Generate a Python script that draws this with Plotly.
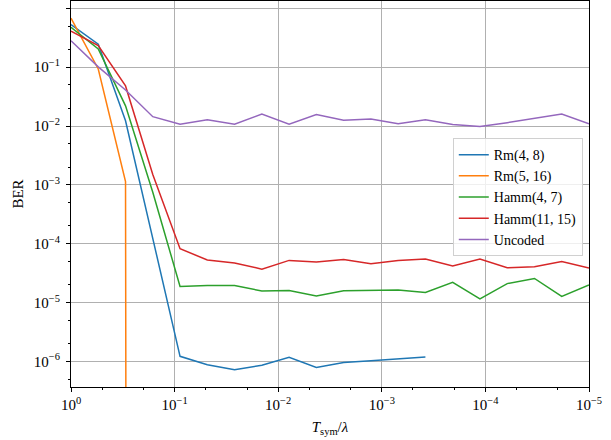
import plotly.graph_objects as go

# x: T_sym / lambda sample points
t_ratio = [1.0, 0.5456, 0.2976, 0.1624, 0.08859, 0.04833, 0.02637, 0.01438,
           0.007848, 0.004281, 0.002336, 0.001274, 0.0006952, 0.0003793,
           0.0002069, 0.0001129, 6.158e-05, 3.360e-05, 1.833e-05, 1e-05]

ber_rm48 = [0.53, 0.245, 0.0123, 1.2e-4, 1.22e-6, 8.8e-7, 7.2e-7, 8.6e-7,
            1.17e-6, 7.9e-7, 9.6e-7, 1.03e-6, 1.1e-6, 1.19e-6,
            None, None, None, None, None, None]
ber_rm516 = [0.68, 0.093, 1.14e-3, 0, 0, 0, 0, 0, 0, 0,
             0, 0, 0, 0, 0, 0, 0, 0, 0, 0]
ber_hamm47 = [0.475, 0.204, 0.022, 7.5e-4, 1.88e-5, 1.95e-5, 1.94e-5, 1.57e-5,
              1.6e-5, 1.29e-5, 1.58e-5, 1.6e-5, 1.64e-5, 1.48e-5,
              2.2e-5, 1.15e-5, 2.1e-5, 2.57e-5, 1.27e-5, 1.99e-5]
ber_hamm1115 = [0.41, 0.232, 0.048, 1.5e-3, 8.2e-5, 5.3e-5, 4.7e-5, 3.7e-5,
                5.2e-5, 4.9e-5, 5.4e-5, 4.55e-5, 5.2e-5, 5.5e-5,
                4.2e-5, 5.5e-5, 3.9e-5, 4.05e-5, 5.0e-5, 3.85e-5]
ber_uncoded = [0.28, 0.101, 0.041, 0.0144, 0.0107, 0.0128, 0.0107, 0.0159,
               0.0107, 0.0156, 0.0125, 0.0132, 0.0109, 0.0128,
               0.0106, 0.0098, 0.0114, 0.0136, 0.0160, 0.0109]

series_names = ["Rm(4, 8)", "Rm(5, 16)", "Hamm(4, 7)", "Hamm(11, 15)", "Uncoded"]
series_colors = ["#1f77b4", "#ff7f0e", "#2ca02c", "#d62728", "#9467bd"]
series_data = [ber_rm48, ber_rm516, ber_hamm47, ber_hamm1115, ber_uncoded]

x_tickvals = [1, 1e-1, 1e-2, 1e-3, 1e-4, 1e-5]
x_ticktext = ["10<sup>0</sup>", "10<sup>−1</sup>", "10<sup>−2</sup>",
              "10<sup>−3</sup>", "10<sup>−4</sup>", "10<sup>−5</sup>"]
y_tickvals = [1, 1e-1, 1e-2, 1e-3, 1e-4, 1e-5, 1e-6]
y_ticktext = ["10<sup>0</sup>", "10<sup>−1</sup>", "10<sup>−2</sup>",
              "10<sup>−3</sup>", "10<sup>−4</sup>", "10<sup>−5</sup>",
              "10<sup>−6</sup>"]


def clip_nonpositive(vals):
    # emulate log-scale clipping of zero values (drawn as a drop to the bottom)
    return [None if v is None else (v if v > 0 else 1e-300) for v in vals]


fig = go.Figure()
for name, color, vals in zip(series_names, series_colors, series_data):
    fig.add_trace(go.Scatter(
        x=t_ratio, y=clip_nonpositive(vals), mode="lines", name=name,
        line=dict(color=color, width=1.5), connectgaps=False,
    ))

font_family = "Liberation Serif, Times New Roman, serif"

fig.update_layout(
    width=611, height=440,
    margin=dict(l=71, r=22, t=1, b=53, autoexpand=False),
    paper_bgcolor="white", plot_bgcolor="white",
    font=dict(family=font_family, size=15, color="black"),
    showlegend=True,
    legend=dict(
        x=0.988, y=0.645, xanchor="right", yanchor="top",
        bgcolor="rgba(255,255,255,0.8)", bordercolor="#d0d0d0", borderwidth=1,
        font=dict(family=font_family, size=14, color="black"),
        itemwidth=30, tracegroupgap=0,
    ),
)

fig.update_xaxes(
    type="log", range=[0, -5], automargin=False,
    tickvals=x_tickvals, ticktext=x_ticktext,
    ticks="outside", ticklen=4, tickcolor="black", tickwidth=1,
    showline=True, linecolor="black", linewidth=1, mirror=True,
    showgrid=True, gridcolor="#b0b0b0", gridwidth=1,
    zeroline=False,
    minor=dict(ticks="outside", ticklen=2, tickcolor="black", showgrid=False),
    title=dict(text="<i>T</i><sub>sym</sub>/<i>λ</i>", standoff=9,
               font=dict(family=font_family, size=15)),
    tickfont=dict(family=font_family, size=15),
)
fig.update_yaxes(
    type="log", range=[-6.435, 0.124], automargin=False,
    tickvals=y_tickvals, ticktext=y_ticktext,
    ticks="outside", ticklen=4, tickcolor="black", tickwidth=1,
    showline=True, linecolor="black", linewidth=1, mirror=True,
    showgrid=True, gridcolor="#b0b0b0", gridwidth=1,
    zeroline=False, ticklabelstandoff=3,
    minor=dict(ticks="outside", ticklen=2, tickcolor="black", showgrid=False),
    title=dict(text="BER", standoff=6, font=dict(family=font_family, size=15)),
    tickfont=dict(family=font_family, size=15),
)

fig.write_html(
    "out.html",
    config={"displayModeBar": False},
    post_script="document.body.style.margin='0px';document.body.style.padding='0px';",
)
